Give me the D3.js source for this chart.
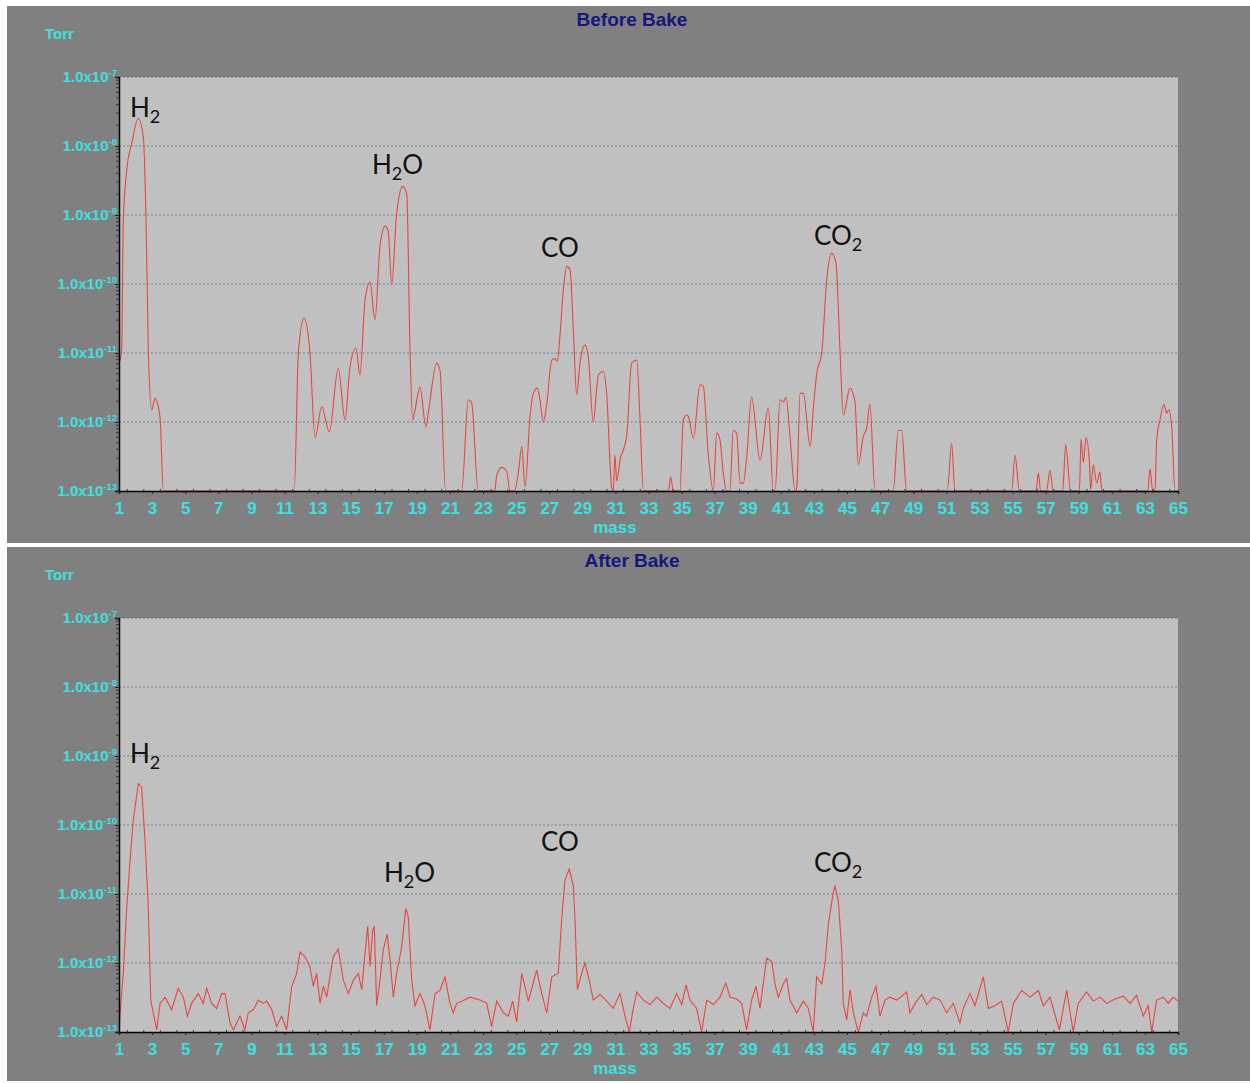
<!DOCTYPE html>
<html><head><meta charset="utf-8">
<script src="https://cdn.jsdelivr.net/npm/d3@7"></script>
<style>body{margin:0;background:#fff;overflow:hidden} svg{display:block}</style>
</head><body>
<script>
// ---- data (mass in amu, pressure in Torr; values below 1e-13 are off-scale) ----
const massTicks = d3.range(1, 66, 2);
const decadeExps = [-7, -8, -9, -10, -11, -12, -13];
const titles = ["Before Bake", "After Bake"];
const gasLabels = [["H", "2", ""], ["H", "2", "O"], ["CO", "", ""], ["CO", "2", ""]];

const beforeBake = [
[1.0,7e-12],[1.16,1.1e-11],[1.26,8.5e-10],[1.47,4.5e-9],[1.77,1.1e-8],[2.17,2.5e-8],[2.47,1.35e-8],
[2.68,2.2e-10],[2.77,1.1e-11],[2.98,1.5e-12],[3.18,2.2e-12],[3.48,1.15e-12],[3.68,1e-13],[3.8,5e-14],
[11.5,5e-14],[11.59,1e-13],[11.84,1e-11],[12.18,3.2e-11],[12.54,1e-11],[12.85,5.9e-13],[13.25,1.66e-12],
[13.71,7.2e-13],[14.25,6e-12],[14.66,1.07e-12],[14.96,6.3e-12],[15.32,1.17e-11],[15.56,4.8e-12],
[15.87,5.9e-11],[16.17,1.07e-10],[16.47,3.0e-11],[16.77,3.5e-10],[17.08,6.9e-10],[17.27,5.75e-10],
[17.48,9.8e-11],[17.78,1.05e-9],[18.15,2.6e-9],[18.39,2.0e-9],[18.59,1.0e-11],[18.75,1.07e-12],
[18.89,1.5e-12],[19.19,3.2e-12],[19.55,8.5e-13],[19.69,1.35e-12],[20.2,7.1e-12],[20.4,5.6e-12],
[20.74,1e-13],[20.8,5e-14],[21.65,5e-14],[21.71,1e-13],[22.11,2.1e-12],[22.31,1.9e-12],[22.71,1e-13],
[22.8,5e-14],[23.7,5e-14],[23.83,1.7e-13],[24.13,2.2e-13],[24.43,1.9e-13],[24.63,1e-13],[24.9,9e-14],
[25.13,1.8e-13],[25.34,4.4e-13],[25.54,1.15e-13],[25.84,1.2e-12],[26.04,2.6e-12],[26.28,3.1e-12],
[26.44,2.1e-12],[26.64,1.0e-12],[26.85,1.8e-12],[27.15,7.9e-12],[27.35,8.3e-12],[27.49,7.6e-12],
[27.65,1.8e-11],[27.85,8.1e-11],[28.06,1.8e-10],[28.26,1.6e-10],[28.46,2.1e-11],[28.66,2.5e-12],
[28.86,7.1e-12],[29.16,1.3e-11],[29.36,8.9e-12],[29.66,1.0e-12],[29.97,4.8e-12],[30.27,5.4e-12],
[30.47,2.6e-12],[30.77,1.15e-13],[30.87,9e-14],[30.97,3.3e-13],[31.08,1.4e-13],[31.28,2.8e-13],
[31.68,6.2e-13],[31.98,7.1e-12],[32.29,7.9e-12],[32.49,1.07e-12],[32.69,1e-13],[32.8,5e-14],
[34.1,5e-14],[34.2,1e-13],[34.34,1.6e-13],[34.5,1e-13],[34.6,5e-14],[34.85,5e-14],[34.9,1e-13],
[35.1,1.07e-12],[35.31,1.26e-12],[35.41,1.2e-12],[35.71,5.8e-13],[36.11,3.5e-12],[36.31,3.3e-12],
[36.61,3.5e-13],[36.92,1e-13],[37.12,6.9e-13],[37.32,5.5e-13],[37.52,1.8e-13],[37.72,1e-13],
[37.92,1e-13],[38.12,7.6e-13],[38.33,6.9e-13],[38.53,1.3e-13],[38.73,1.3e-13],[38.93,3.0e-13],
[39.23,2.3e-12],[39.74,2.8e-13],[40.24,1.6e-12],[40.54,1e-13],[40.65,1e-13],[40.95,2.1e-12],
[41.15,1.95e-12],[41.31,2.3e-12],[41.55,6.2e-13],[41.86,1e-13],[41.96,1.1e-13],[42.16,2.6e-12],
[42.36,2.6e-12],[42.77,4.4e-13],[42.97,1.66e-12],[43.17,5.1e-12],[43.47,1.0e-11],[43.77,1.15e-10],
[44.07,2.8e-10],[44.33,2.0e-10],[44.58,1.0e-11],[44.77,1.26e-12],[45.18,3.1e-12],[45.48,1.95e-12],
[45.68,2.4e-13],[45.98,6.2e-13],[46.18,8.1e-13],[46.38,1.8e-12],[46.69,1e-13],[46.8,5e-14],
[47.7,5e-14],[47.79,1e-13],[48.09,7.6e-13],[48.3,7.6e-13],[48.6,1e-13],[48.7,5e-14],
[50.95,5e-14],[51.06,1e-13],[51.32,4.9e-13],[51.52,1e-13],[51.6,5e-14],[54.85,5e-14],[54.95,1e-13],
[55.15,3.3e-13],[55.41,1e-13],[55.5,5e-14],[56.3,5e-14],[56.42,1e-13],[56.56,1.8e-13],[56.7,1e-13],
[56.8,5e-14],[56.95,5e-14],[57.06,1e-13],[57.26,2.0e-13],[57.46,1e-13],[57.55,5e-14],[57.95,5e-14],
[58.03,1e-13],[58.21,4.7e-13],[58.51,1e-13],[58.6,5e-14],[58.95,5e-14],[59.04,1e-13],[59.14,5.6e-13],
[59.28,2.6e-13],[59.44,5.9e-13],[59.64,2.8e-13],[59.72,1.05e-13],[59.88,2.4e-13],[60.09,1.3e-13],
[60.29,1.9e-13],[60.39,1e-13],[60.5,5e-14],[63.05,5e-14],[63.17,1e-13],[63.31,2.1e-13],[63.47,1e-13],
[63.61,1e-13],[63.71,5.5e-13],[63.91,1.07e-12],[64.15,1.8e-12],[64.31,1.35e-12],[64.44,1.5e-12],
[64.62,8.5e-13],[64.82,1e-13],[65.0,5e-14]
];

const afterBake = [
[1.0,1.1e-13],[1.16,3.6e-13],[1.26,7.1e-13],[1.47,6.6e-12],[1.67,3.1e-11],[1.86,1.17e-10],[2.17,4.0e-10],
[2.37,3.5e-10],[2.57,6.0e-11],[2.77,6.6e-12],[2.92,2.9e-13],[3.07,1.9e-13],[3.28,1.07e-13],[3.48,2.6e-13],
[3.78,3.2e-13],[3.98,2.6e-13],[4.18,2.1e-13],[4.58,4.3e-13],[4.89,3.2e-13],[5.13,1.7e-13],[5.39,2.6e-13],
[5.79,3.6e-13],[6.09,2.6e-13],[6.3,4.3e-13],[6.6,2.6e-13],[6.9,2.2e-13],[7.21,3.6e-13],[7.41,3.6e-13],
[7.71,1.35e-13],[7.91,1.07e-13],[8.31,1.7e-13],[8.61,1.07e-13],[8.81,1.9e-13],[9.12,2.1e-13],
[9.42,2.9e-13],[9.72,2.6e-13],[9.93,2.8e-13],[10.23,2.1e-13],[10.53,1.2e-13],[10.83,1.7e-13],
[11.13,1.07e-13],[11.44,4.6e-13],[11.74,7.1e-13],[11.94,1.45e-12],[12.24,1.23e-12],[12.54,8.9e-13],
[12.74,4.6e-13],[12.94,7.1e-13],[13.15,2.6e-13],[13.35,4.6e-13],[13.55,3.2e-13],[13.95,1.23e-12],
[14.25,1.6e-12],[14.56,5.6e-13],[14.86,3.6e-13],[15.16,5.6e-13],[15.46,7.1e-13],[15.67,4.1e-13],
[15.87,1.4e-12],[16.03,3.4e-12],[16.17,8.9e-13],[16.33,3.0e-12],[16.43,3.4e-12],[16.57,2.4e-13],
[16.77,5.6e-13],[16.97,1.55e-12],[17.21,2.6e-12],[17.38,1.1e-12],[17.58,3.2e-13],[17.78,7.1e-13],
[18.08,1.7e-12],[18.33,6.2e-12],[18.48,4.7e-12],[18.69,5.6e-13],[18.89,2.4e-13],[19.19,3.6e-13],
[19.29,3.2e-13],[19.49,2.4e-13],[19.79,1.07e-13],[20.1,3.6e-13],[20.4,4.0e-13],[20.7,6.3e-13],
[21.0,2.6e-13],[21.2,1.9e-13],[21.41,2.6e-13],[21.71,2.8e-13],[22.21,3.2e-13],[22.82,2.9e-13],
[23.22,2.6e-13],[23.52,1.2e-13],[23.83,2.8e-13],[24.23,1.9e-13],[24.53,1.7e-13],[24.79,2.8e-13],
[25.03,1.4e-13],[25.34,7.1e-13],[25.74,2.8e-13],[26.24,7.9e-13],[26.55,3.6e-13],[26.85,1.9e-13],
[27.15,6.3e-13],[27.55,7.1e-13],[27.75,4.2e-12],[27.95,1.6e-11],[28.21,2.3e-11],[28.46,1.3e-11],
[28.56,4.2e-12],[28.7,4.1e-13],[28.96,7.1e-13],[29.16,1.0e-12],[29.46,5.1e-13],[29.66,2.9e-13],
[30.07,3.5e-13],[30.47,2.8e-13],[30.87,2.2e-13],[31.28,3.6e-13],[31.58,1.7e-13],[31.84,1.0e-13],
[32.08,2.2e-13],[32.29,3.8e-13],[32.69,2.9e-13],[33.09,2.5e-13],[33.5,3.2e-13],[33.89,2.6e-13],
[34.3,2.2e-13],[34.7,3.6e-13],[35.01,2.5e-13],[35.27,4.8e-13],[35.51,2.9e-13],[35.91,2.2e-13],
[36.21,1.0e-13],[36.52,2.9e-13],[36.92,2.5e-13],[37.32,3.2e-13],[37.67,5.1e-13],[37.93,3.2e-13],
[38.33,3.0e-13],[38.63,2.6e-13],[38.93,1.07e-13],[39.23,2.9e-13],[39.5,4.6e-13],[39.74,2.2e-13],
[40.14,1.17e-12],[40.45,1.05e-12],[40.65,4.9e-13],[40.84,3.2e-13],[41.15,5.0e-13],[41.35,6.0e-13],
[41.55,2.9e-13],[41.96,1.9e-13],[42.36,2.8e-13],[42.66,2.2e-13],[42.96,1.0e-13],[43.16,6.3e-13],
[43.47,5.0e-13],[43.67,1.0e-12],[43.87,3.7e-12],[44.17,1.07e-11],[44.27,1.3e-11],[44.47,8.1e-12],
[44.68,1.55e-12],[44.77,2.6e-13],[44.98,1.5e-13],[45.18,4.1e-13],[45.38,1.9e-13],[45.68,1.0e-13],
[45.98,1.9e-13],[46.18,1.7e-13],[46.49,3.2e-13],[46.75,4.6e-13],[46.99,1.7e-13],[47.29,2.9e-13],
[47.59,3.2e-13],[48.0,2.9e-13],[48.6,3.8e-13],[48.8,1.9e-13],[49.11,2.6e-13],[49.51,3.5e-13],
[49.81,2.5e-13],[50.21,3.2e-13],[50.62,2.9e-13],[51.02,1.9e-13],[51.42,2.6e-13],[51.82,1.35e-13],
[52.02,2.2e-13],[52.43,3.6e-13],[52.73,2.4e-13],[53.23,6.3e-13],[53.54,2.2e-13],[53.94,2.4e-13],
[54.34,2.8e-13],[54.74,1.0e-13],[55.05,2.6e-13],[55.55,4.0e-13],[56.06,3.2e-13],[56.56,4.0e-13],
[56.86,2.4e-13],[57.26,3.2e-13],[57.83,1.07e-13],[58.27,4.0e-13],[58.67,1.0e-13],[58.97,2.6e-13],
[59.48,3.8e-13],[59.88,2.8e-13],[60.29,3.2e-13],[60.69,2.6e-13],[61.19,3.0e-13],[61.7,3.3e-13],
[62.1,2.6e-13],[62.5,3.4e-13],[62.9,1.7e-13],[63.2,2.4e-13],[63.41,1.0e-13],[63.71,2.9e-13],
[64.11,3.2e-13],[64.41,2.6e-13],[64.71,3.2e-13],[65.0,2.8e-13]
];

// ---- drawing ----
const W = 1250, H = 1083;
const svg = d3.select("body").append("svg").attr("width", W).attr("height", H);
svg.append("rect").attr("width", W).attr("height", H).attr("fill", "#ffffff");

const CYAN = "#3ee0e0", NAVY = "#16167e", GRID = "#5e8a8a";
const SANS = "Liberation Sans, Arial, sans-serif";

const panels = [
  {top: 6, bottom: 543, py0: 77, py1: 491, data: beforeBake, title: titles[0], curve: d3.curveMonotoneX,
   labels: [[130,117],[372,174],[541,257],[814,245]]},
  {top: 547, bottom: 1081, py0: 618, py1: 1032, data: afterBake, title: titles[1], curve: d3.curveLinear,
   labels: [[130,763],[384,882],[541,851],[814,872]]}
];

panels.forEach(p => {
  const g = svg.append("g");
  g.append("rect").attr("x", 7).attr("y", p.top).attr("width", W - 7).attr("height", p.bottom - p.top)
    .attr("fill", "#808080");

  const x = d3.scaleLinear().domain([1, 65]).range([119, 1178]);
  const y = d3.scaleLog().domain([1e-13, 1e-7]).range([p.py1, p.py0]).clamp(true);

  g.append("rect").attr("x", x(1)).attr("y", y(1e-7)).attr("width", x(65) - x(1))
    .attr("height", y(1e-13) - y(1e-7)).attr("fill", "#c0c0c0");

  // grid
  decadeExps.filter(e => e > -13).forEach(e => {
    g.append("line").attr("x1", x(1)).attr("x2", x(65)).attr("y1", y(Math.pow(10, e))).attr("y2", y(Math.pow(10, e)))
      .attr("stroke", e === -7 ? "#6a6a6a" : GRID).attr("stroke-width", 1).attr("stroke-dasharray", "2,2");
  });

  // title
  g.append("text").attr("x", 632).attr("y", p.top + 20).attr("text-anchor", "middle")
    .attr("font-family", SANS).attr("font-weight", "bold").attr("font-size", 19)
    .attr("fill", NAVY).text(p.title);
  g.append("text").attr("x", 45).attr("y", p.top + 33)
    .attr("font-family", SANS).attr("font-weight", "bold").attr("font-size", 15)
    .attr("fill", CYAN).text("Torr");

  // data line
  const clip = "clip" + p.top;
  g.append("clipPath").attr("id", clip).append("rect").attr("x", x(1) - 1).attr("y", y(1e-7))
    .attr("width", x(65) - x(1) + 2).attr("height", y(1e-13) - y(1e-7));
  const line = d3.line().x(d => x(d[0])).y(d => y(d[1])).curve(p.curve);
  g.append("path").datum(p.data).attr("d", line).attr("fill", "none").attr("stroke", "#e8453f")
    .attr("stroke-width", 1.1).attr("clip-path", `url(#${clip})`);

  // left axis
  const yAxis = d3.axisLeft(y).tickValues(decadeExps.map(e => Math.pow(10, e))).tickSize(4).tickFormat("");
  const ya = g.append("g").attr("transform", `translate(${x(1)},0)`).call(yAxis);
  ya.select(".domain").attr("stroke", "#000").attr("stroke-width", 1.5);
  ya.selectAll(".tick line").attr("stroke", "#222");
  const minors = [];
  decadeExps.slice(1).forEach(e => { for (let k = 2; k <= 9; k++) minors.push(k * Math.pow(10, e)); });
  g.selectAll(null).data(minors).enter().append("line")
    .attr("x1", x(1) - 3).attr("x2", x(1)).attr("y1", d => y(d)).attr("y2", d => y(d))
    .attr("stroke", "#333").attr("stroke-width", 1);

  // y tick labels
  decadeExps.forEach(e => {
    const t = g.append("text").attr("x", 117).attr("y", y(Math.pow(10, e)) + 5).attr("text-anchor", "end")
      .attr("font-family", SANS).attr("font-weight", "bold").attr("font-size", 15)
      .attr("fill", CYAN);
    t.append("tspan").text("1.0x10");
    t.append("tspan").attr("font-size", 9.5).attr("dy", -6).text(String(e));
  });

  // bottom axis
  const xAxis = d3.axisBottom(x).tickValues(massTicks).tickSize(3).tickFormat(d => d);
  const xa = g.append("g").attr("transform", `translate(0,${y(1e-13)})`).call(xAxis);
  xa.select(".domain").attr("stroke", "#000").attr("stroke-width", 1.5);
  xa.selectAll(".tick line").attr("stroke", "#222");
  xa.selectAll(".tick text").attr("fill", CYAN).attr("font-family", SANS)
    .attr("font-weight", "bold").attr("font-size", 17).attr("dy", "0").attr("y", 23);
  g.selectAll(null).data(d3.range(1.5, 65, 1)).enter().append("line")
    .attr("x1", d => x(d)).attr("x2", d => x(d)).attr("y1", y(1e-13) - 2).attr("y2", y(1e-13) + 2)
    .attr("stroke", "#333");
  g.append("text").attr("x", 615).attr("y", y(1e-13) + 42).attr("text-anchor", "middle")
    .attr("font-family", SANS).attr("font-weight", "bold").attr("font-size", 17)
    .attr("fill", CYAN).text("mass");

  // gas labels
  gasLabels.forEach((lab, i) => {
    const [lx, ly] = p.labels[i];
    const t = g.append("text").attr("x", lx).attr("y", ly).attr("font-family", "Lato, Open Sans, sans-serif")
      .attr("font-size", 26).attr("fill", "#111");
    t.append("tspan").text(lab[0]);
    if (lab[1]) t.append("tspan").attr("font-size", 18).attr("dy", 6).text(lab[1]);
    if (lab[2]) t.append("tspan").attr("dy", -6).text(lab[2]);
  });
});
</script>
</body></html>
